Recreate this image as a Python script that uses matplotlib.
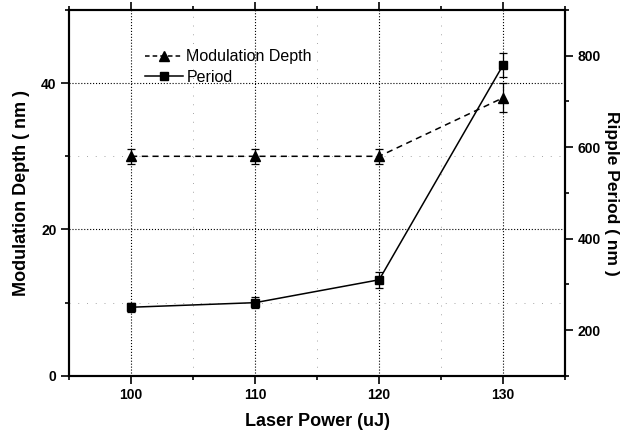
import matplotlib.pyplot as plt
from matplotlib.lines import Line2D
from matplotlib.ticker import MultipleLocator

# data
power = [100, 110, 120, 130]
depth = [30, 30, 30, 38]
depth_err = [1.0, 1.0, 1.0, 2.0]
period = [250, 260, 310, 780]
period_err = [10, 12, 18, 26]

plt.rcParams['font.family'] = ['Liberation Sans', 'DejaVu Sans']

fig = plt.figure(figsize=(6.28, 4.32), dpi=100)
ax = fig.add_axes([0.110, 0.130, 0.790, 0.847])
ax2 = ax.twinx()

# modulation depth (left axis)
ax.errorbar(power, depth, yerr=depth_err, color='black', ls='--', lw=1.1,
            marker='^', ms=7, capsize=3, elinewidth=0.9, capthick=0.9,
            dashes=(4, 3))
# ripple period (right axis)
ax2.errorbar(power, period, yerr=period_err, color='black', ls='-', lw=1.1,
             marker='s', ms=6, capsize=3, elinewidth=0.9, capthick=0.9)

ax.set_xlim(95, 135)
ax.set_ylim(0, 50)
ax2.set_ylim(100, 900)

ax.xaxis.set_major_locator(MultipleLocator(10))
ax.xaxis.set_minor_locator(MultipleLocator(5))
ax.yaxis.set_major_locator(MultipleLocator(20))
ax.yaxis.set_minor_locator(MultipleLocator(10))
ax2.yaxis.set_major_locator(MultipleLocator(200))
ax2.yaxis.set_minor_locator(MultipleLocator(100))

ax.grid(True, which='major', ls=':', color='black', lw=0.8)
ax.grid(True, which='minor', ls=(0, (1, 8)), color='0.65', lw=0.7)

ax.tick_params(which='both', direction='out', top=True, labelsize=10, width=1.2, pad=3)
ax.tick_params(which='major', length=6)
ax.tick_params(which='minor', length=3)
ax2.tick_params(which='both', direction='out', labelsize=10, width=1.2, pad=3)
ax2.tick_params(which='major', length=6)
ax2.tick_params(which='minor', length=3)

for a in (ax, ax2):
    for s in a.spines.values():
        s.set_linewidth(1.5)
    for lab in a.get_xticklabels() + a.get_yticklabels():
        lab.set_fontweight('bold')

ax.set_xlabel('Laser Power (uJ)', fontsize=13, fontweight='bold', labelpad=8)
ax.set_ylabel('Modulation Depth ( nm )', fontsize=13, fontweight='bold', labelpad=8)
ax2.set_ylabel('Ripple Period ( nm )', fontsize=12.5, fontweight='bold',
               rotation=270, labelpad=13)

handles = [Line2D([], [], color='black', ls='--', dashes=(3, 2), lw=1.1, marker='^', ms=7),
           Line2D([], [], color='black', ls='-', lw=1.1, marker='s', ms=6)]
ax.legend(handles, ['Modulation Depth', 'Period'], loc='upper left',
          bbox_to_anchor=(0.14, 0.91), frameon=False, fontsize=11.5,
          handlelength=2.4, handletextpad=0.2, labelspacing=0.35, borderaxespad=0)

fig.savefig('out.png', dpi=100)
